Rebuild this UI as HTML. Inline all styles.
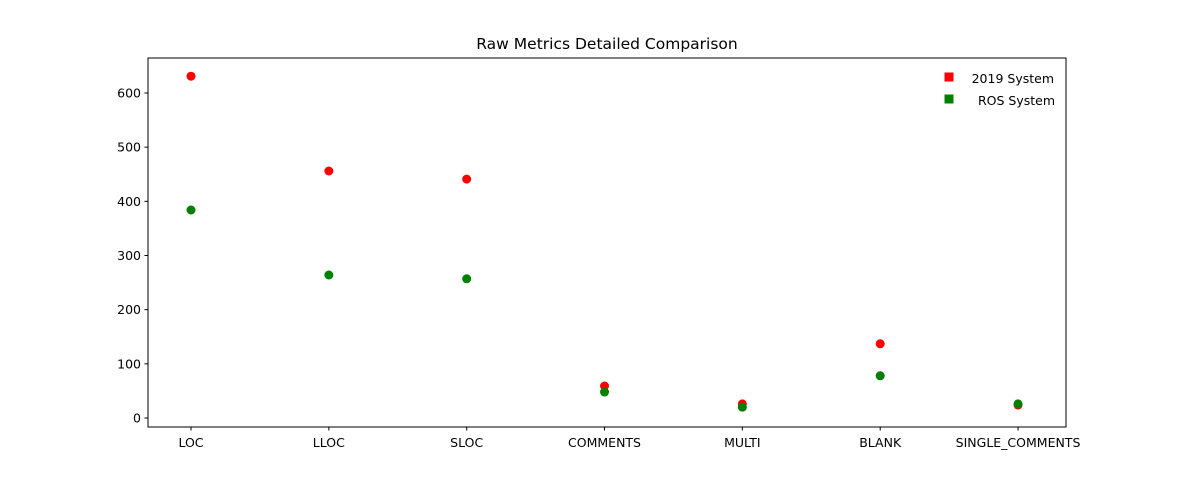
<!DOCTYPE html>
<html><head><meta charset="utf-8"><style>
body{margin:0;background:#fff;font-family:"Liberation Sans","DejaVu Sans",sans-serif;}
svg text{font-family:"DejaVu Sans","Liberation Sans",sans-serif;font-size:12.5px;fill:#000;}
</style></head><body>
<svg id="chart" width="1184" height="480">
<text x="607" y="49" text-anchor="middle" style="font-size:15.5px">Raw Metrics Detailed Comparison</text>
<g id="axes"></g><g id="marks"></g>
<rect x="148" y="58" width="918" height="369" fill="none" stroke="#000" stroke-width="1"/>
<g>
<rect x="944.5" y="72.5" width="9" height="9" fill="#ff0000"/>
<text x="1054" y="83" text-anchor="end">2019 System</text>
<rect x="944.5" y="94.5" width="9" height="9" fill="#008000"/>
<text x="1055" y="105" text-anchor="end">ROS System</text>
</g>
</svg>
<script>
const categories=["LOC","LLOC","SLOC","COMMENTS","MULTI","BLANK","SINGLE_COMMENTS"];
const values2019=[631,456,441,59,26,137,24];
const valuesROS=[384,264,257,48,20,78,26];
const yTicks=[0,100,200,300,400,500,600];
const ns="http://www.w3.org/2000/svg";
const X0=148,X1=1066,Y0=427,Y1=58,xmin=-0.312,xmax=6.348,ymin=-16.6,ymax=664.6;
const xs=i=>X0+(i-xmin)/(xmax-xmin)*(X1-X0);
const ys=v=>Y0-(v-ymin)/(ymax-ymin)*(Y0-Y1);
const axes=document.getElementById('axes'),marks=document.getElementById('marks');
function mk(t,a,p){const e=document.createElementNS(ns,t);for(const k in a)e.setAttribute(k,a[k]);p.appendChild(e);return e;}
yTicks.forEach(v=>{const y=ys(v);
const l=mk('line',{x1:X0-3.5,x2:X0,y1:y,y2:y,stroke:'#000'},axes);


const t=mk('text',{x:X0-7,y:y+4.5,'text-anchor':'end'},axes);t.textContent=v;

});
categories.forEach((c,i)=>{const x=xs(i);
const l=mk('line',{x1:x,x2:x,y1:Y0,y2:Y0+3.5,stroke:'#000'},axes);


const t=mk('text',{x:x,y:Y0+20,'text-anchor':'middle'},axes);t.textContent=c;

});
[[values2019,'#ff0000','point-2019'],[valuesROS,'#008000','point-ros']].forEach(([vals,col,nm])=>{
vals.forEach((v,i)=>{const p=mk('circle',{cx:xs(i),cy:ys(v),r:4.5,fill:col},marks);

});});
</script>
</body></html>
